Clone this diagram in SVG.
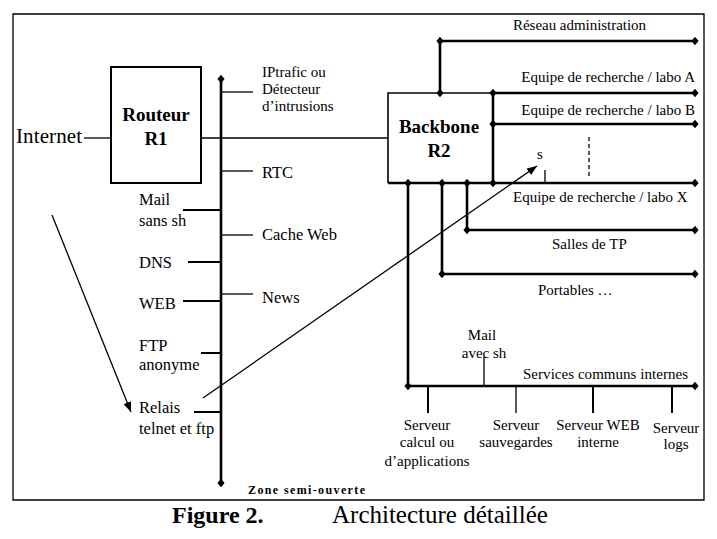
<svg xmlns="http://www.w3.org/2000/svg" xmlns:xlink="http://www.w3.org/1999/xlink" width="717" height="539" viewBox="0 0 717 539">
<style>
text{font-family:"Liberation Serif","Times New Roman",serif;fill:#000}
.s15{font-size:15px}
.s16{font-size:16.5px}
.b{font-weight:bold}
.thin{stroke:#000;stroke-width:1.3;fill:none}
.thick{stroke:#000;stroke-width:2.6;fill:none}
.mid{stroke:#000;stroke-width:2;fill:none}
.c{text-anchor:middle}
.e{text-anchor:end}
</style>
<defs>
<path id="dm" d="M0,-4.2 L3.6,0 L0,4.2 L-3.6,0 Z" fill="#000"/>
<marker id="ah" viewBox="0 0 10 10" refX="10" refY="5" markerWidth="10" markerHeight="10" markerUnits="userSpaceOnUse" orient="auto">
<path d="M0,1 L10,5 L0,9 Z" fill="#000"/>
</marker>
</defs>
<rect width="717" height="539" fill="#fff"/>
<g id="frame">
<path class="thin" d="M13,14 H704 V500 H13 Z"/>
</g>
<g id="connectors">
<line class="thin" x1="84" y1="138" x2="111" y2="138"/>
<line class="thin" x1="201" y1="138" x2="388" y2="138"/>
<line class="thick" x1="221" y1="79" x2="221" y2="483"/>
<line class="thin" x1="221" y1="92" x2="253" y2="92"/>
<line class="thin" x1="221" y1="171" x2="253" y2="171"/>
<line class="thin" x1="221" y1="235" x2="253" y2="235"/>
<line class="thin" x1="221" y1="294" x2="253" y2="294"/>
<line class="mid" x1="183" y1="210" x2="221" y2="210"/>
<line class="mid" x1="188" y1="262" x2="221" y2="262"/>
<line class="mid" x1="183" y1="301" x2="221" y2="301"/>
<line class="mid" x1="201" y1="353" x2="221" y2="353"/>
<line class="mid" x1="194" y1="412" x2="221" y2="412"/>
<line class="thick" x1="440" y1="41" x2="695" y2="41"/>
<line class="thick" x1="440" y1="41" x2="440" y2="93"/>
<line class="thick" x1="493" y1="93" x2="695" y2="93"/>
<line class="thick" x1="493" y1="93" x2="493" y2="183"/>
<line class="thick" x1="493" y1="124" x2="695" y2="124"/>
<line class="thick" x1="388" y1="183" x2="695" y2="183"/>
<line class="thick" x1="467" y1="183" x2="467" y2="230"/>
<line class="thick" x1="467" y1="230" x2="695" y2="230"/>
<line class="thick" x1="442" y1="183" x2="442" y2="274"/>
<line class="thick" x1="442" y1="274" x2="695" y2="274"/>
<line class="thick" x1="408" y1="183" x2="408" y2="386"/>
<line class="thick" x1="408" y1="386" x2="695" y2="386"/>
<line class="thin" x1="484" y1="357" x2="484" y2="386"/>
<line class="mid" x1="428" y1="386" x2="428" y2="413"/>
<line class="thin" x1="516" y1="386" x2="516" y2="413"/>
<line class="mid" x1="593" y1="386" x2="593" y2="413"/>
<line class="mid" x1="672" y1="386" x2="672" y2="413"/>
<line class="thin" x1="545" y1="170" x2="545" y2="183"/>
<line class="thin" x1="589" y1="137" x2="589" y2="177" stroke-dasharray="4,3"/>
<line class="thin" stroke-width="1" x1="52" y1="215" x2="131" y2="412" marker-end="url(#ah)"/>
<line class="thin" stroke-width="1" x1="203" y1="398" x2="537" y2="166" marker-end="url(#ah)"/>
<use xlink:href="#dm" x="221" y="79"/>
<use xlink:href="#dm" x="221" y="483"/>
<use xlink:href="#dm" x="440" y="41"/>
<use xlink:href="#dm" x="695" y="41"/>
<use xlink:href="#dm" x="440" y="93"/>
<use xlink:href="#dm" x="493" y="93"/>
<use xlink:href="#dm" x="695" y="93"/>
<use xlink:href="#dm" x="493" y="124"/>
<use xlink:href="#dm" x="695" y="124"/>
<use xlink:href="#dm" x="493" y="183"/>
<use xlink:href="#dm" x="695" y="183"/>
<use xlink:href="#dm" x="408" y="183"/>
<use xlink:href="#dm" x="442" y="183"/>
<use xlink:href="#dm" x="467" y="183"/>
<use xlink:href="#dm" x="467" y="230"/>
<use xlink:href="#dm" x="695" y="230"/>
<use xlink:href="#dm" x="442" y="274"/>
<use xlink:href="#dm" x="695" y="274"/>
<use xlink:href="#dm" x="408" y="386"/>
<use xlink:href="#dm" x="695" y="386"/>
</g>
<g id="internet"><text x="16" y="143" font-size="21" textLength="66">Internet</text></g>
<g id="routeur">
<rect x="111" y="67" width="90" height="116" fill="#fff" stroke="#000" stroke-width="2"/>
<text class="b c" x="156" y="121" font-size="19">Routeur</text>
<text class="b c" x="156" y="145" font-size="19">R1</text>
</g>
<g id="backbone">
<path d="M492,93 H388 V183" fill="none" stroke="#000" stroke-width="1.6"/>
<text class="b c" x="439" y="133" font-size="19">Backbone</text>
<text class="b c" x="439" y="157" font-size="19">R2</text>
</g>
<g id="iptrafic"><text class="s15" x="262" y="77">IPtrafic ou</text><text class="s15" x="262" y="94">Détecteur</text><text class="s15" x="262" y="111">d’intrusions</text></g>
<g id="rtc"><text class="s16" x="262" y="178">RTC</text></g>
<g id="cacheweb"><text class="s16" x="262" y="240">Cache Web</text></g>
<g id="news"><text class="s16" x="262" y="303">News</text></g>
<g id="mailsans"><text class="s16" x="139" y="205">Mail</text><text class="s16" x="139" y="226">sans sh</text></g>
<g id="dns"><text class="s16" x="139" y="268">DNS</text></g>
<g id="web"><text class="s16" x="139" y="309">WEB</text></g>
<g id="ftp"><text class="s16" x="139" y="351">FTP</text><text class="s16" x="139" y="370">anonyme</text></g>
<g id="relais"><text class="s16" x="139" y="413">Relais</text><text class="s16" x="139" y="434">telnet et ftp</text></g>
<g id="zone"><text class="b" x="248" y="494" font-size="12" textLength="117">Zone semi-ouverte</text></g>
<g id="admin"><text class="s15" x="513" y="30" textLength="133">Réseau administration</text></g>
<g id="laboA"><text class="s15 e" x="695" y="82">Equipe de recherche / labo A</text></g>
<g id="laboB"><text class="s15 e" x="695" y="115">Equipe de recherche / labo B</text></g>
<g id="s"><text class="s15" x="537" y="159">s</text></g>
<g id="laboX"><text class="s15" x="513" y="202">Equipe de recherche / labo X</text></g>
<g id="salles"><text class="s15" x="552" y="249">Salles de TP</text></g>
<g id="portables"><text class="s15" x="538" y="295">Portables …</text></g>
<g id="mailavec"><text class="s15 c" x="482" y="340">Mail</text><text class="s15 c" x="484" y="358">avec sh</text></g>
<g id="services"><text class="s15" x="523" y="379" textLength="165">Services communs internes</text></g>
<g id="srvcalc"><text class="s15 c" x="427" y="430">Serveur</text><text class="s15 c" x="427" y="447">calcul ou</text><text class="s15 c" x="427" y="466">d’applications</text></g>
<g id="srvsauv"><text class="s15 c" x="516" y="430">Serveur</text><text class="s15 c" x="516" y="447">sauvegardes</text></g>
<g id="srvweb"><text class="s15 c" x="598" y="430">Serveur WEB</text><text class="s15 c" x="598" y="447">interne</text></g>
<g id="srvlogs"><text class="s15 c" x="676" y="433">Serveur</text><text class="s15 c" x="676" y="449">logs</text></g>
<g id="caption"><text class="b" x="172" y="523" font-size="24">Figure 2.</text><text x="332" y="523" font-size="25">Architecture détaillée</text></g>
</svg>
